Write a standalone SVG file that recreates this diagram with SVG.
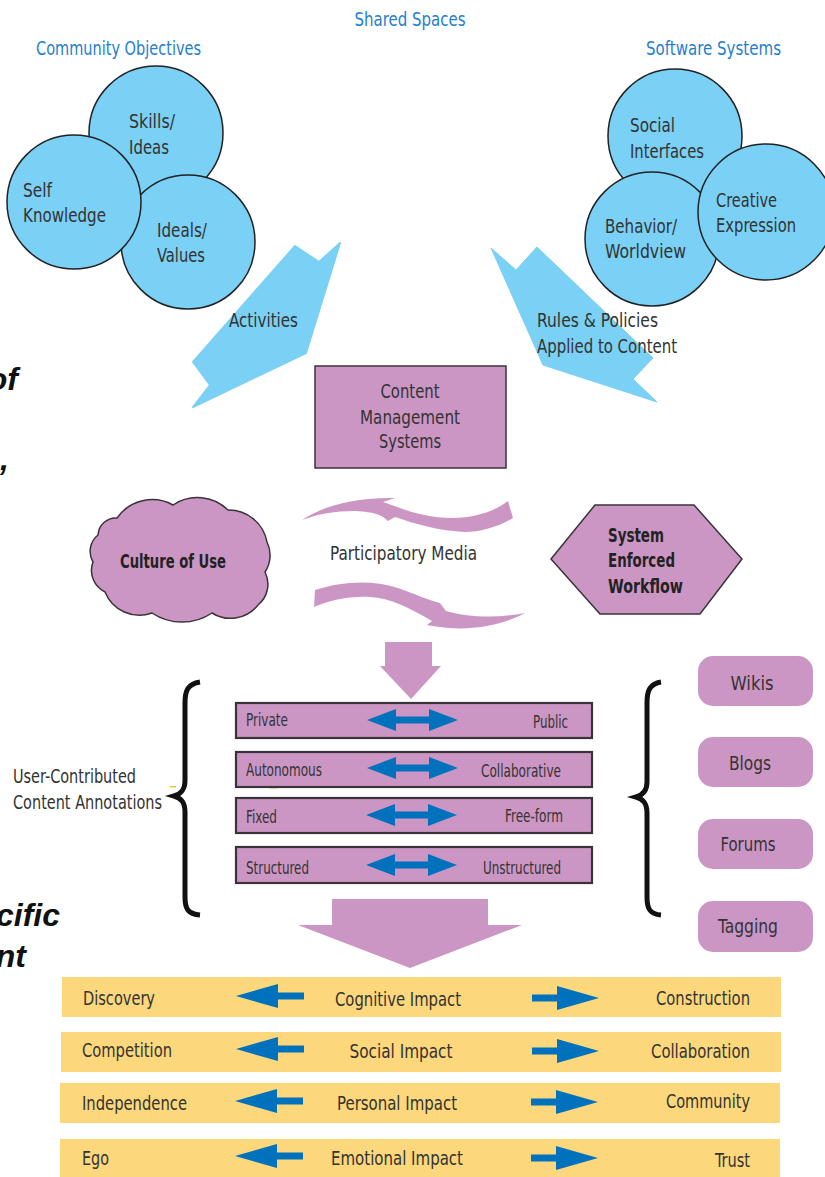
<svg xmlns="http://www.w3.org/2000/svg" xmlns:xlink="http://www.w3.org/1999/xlink" width="825" height="1177" viewBox="0 0 825 1177">
<defs>
<style>
.t{font-family:"Liberation Sans Narrow","DejaVu Sans Condensed","Liberation Sans",Arial,sans-serif;fill:#333;font-size:20px}
.s{font-size:17px}
.b{font-weight:bold}
.bl{fill:#1f80cf}
.c{text-anchor:middle}
.e{text-anchor:end}
.circ{fill:#7ad0f5;stroke:#222;stroke-width:1.5}
.sky{fill:#7ad0f5}
.pur{fill:#cc96c4}
.purs{fill:#cc96c4;stroke:#3a3339;stroke-width:1.5}
.bar{fill:#cc96c4;stroke:#3a3339;stroke-width:2.2}
.yel{fill:#fcd77b}
.arr{fill:#0071bc}
.side{font-family:"Liberation Sans",Arial,sans-serif;font-weight:bold;font-style:italic;font-size:32px;fill:#111}
</style>
<path id="dbl" d="M-45,0 L-16,-11 L-16,-3.5 L17,-3.5 L17,-11 L46,0 L17,11 L17,3.5 L-16,3.5 L-16,11 Z"/>
<path id="la" d="M0,0 L42,-12 L42,-3.5 L68,-3.5 L68,3.5 L42,3.5 L42,12 Z"/>
<path id="ra" d="M0,-3.5 L25,-3.5 L25,-12 L67,0 L25,12 L25,3.5 L0,3.5 Z"/>
</defs>
<rect width="825" height="1177" fill="#ffffff"/>

<!-- side clipped caption fragments -->
<g id="side-text">
<text class="side e" x="18" y="390">of</text>
<text class="side e" x="9" y="470">e,</text>
<text class="side e" x="60" y="926">cific</text>
<text class="side e" x="26" y="967">nt</text>
</g>

<!-- headings -->
<g id="headings">
<text class="t bl c" x="410" y="26" textLength="111" lengthAdjust="spacingAndGlyphs">Shared Spaces</text>
<text class="t bl" x="36" y="55" textLength="165" lengthAdjust="spacingAndGlyphs">Community Objectives</text>
<text class="t bl" x="646" y="55" textLength="135" lengthAdjust="spacingAndGlyphs">Software Systems</text>
</g>

<!-- community objectives circles -->
<g id="skills-ideas">
<circle class="circ" cx="156" cy="133" r="67"/>
<text class="t" x="129" y="128" textLength="46" lengthAdjust="spacingAndGlyphs">Skills/</text>
<text class="t" x="129" y="154" textLength="40" lengthAdjust="spacingAndGlyphs">Ideas</text>
</g>
<g id="ideals-values">
<circle class="circ" cx="188" cy="242" r="67"/>
<text class="t" x="157" y="237" textLength="50" lengthAdjust="spacingAndGlyphs">Ideals/</text>
<text class="t" x="157" y="262" textLength="48" lengthAdjust="spacingAndGlyphs">Values</text>
</g>
<g id="self-knowledge">
<circle class="circ" cx="74" cy="202" r="67"/>
<text class="t" x="23" y="197" textLength="29" lengthAdjust="spacingAndGlyphs">Self</text>
<text class="t" x="23" y="222" textLength="83" lengthAdjust="spacingAndGlyphs">Knowledge</text>
</g>

<!-- software systems circles -->
<g id="social-interfaces">
<circle class="circ" cx="675" cy="136" r="67"/>
<text class="t" x="630" y="132" textLength="45" lengthAdjust="spacingAndGlyphs">Social</text>
<text class="t" x="630" y="158" textLength="74" lengthAdjust="spacingAndGlyphs">Interfaces</text>
</g>
<g id="behavior-worldview">
<circle class="circ" cx="652" cy="239" r="67"/>
<text class="t" x="605" y="233" textLength="72" lengthAdjust="spacingAndGlyphs">Behavior/</text>
<text class="t" x="605" y="258" textLength="81" lengthAdjust="spacingAndGlyphs">Worldview</text>
</g>
<g id="creative-expression">
<circle class="circ" cx="766" cy="212" r="68"/>
<text class="t" x="716" y="207" textLength="61" lengthAdjust="spacingAndGlyphs">Creative</text>
<text class="t" x="716" y="232" textLength="80" lengthAdjust="spacingAndGlyphs">Expression</text>
</g>

<!-- connectors -->
<g id="connectors">
<path class="sky" stroke="#7ad0f5" stroke-width="2" stroke-linejoin="round" d="M295,246 L319,262 L340,243 L306,353 L193,407 L210,385 L193,362 Z"/>
<path class="sky" stroke="#7ad0f5" stroke-width="1" stroke-linejoin="round" d="M491,248 L516,270 L537,247 L653,358 L633,379 L657,402 L543,365 Z"/>
<path class="pur" d="M302,520 C320,508 350,497 395,498 L383,502 C405,510 425,518 452,518 C475,518 495,511 508,501 L513,518 C498,527 480,532 465,532 C440,531 415,524 395,517 L388,521 C382,515 375,512 355,511 C335,511 318,514 302,520 Z"/>
<path class="pur" d="M315,590 C340,582 370,579 398,588 C415,594 428,600 440,603 L446,611 C470,618 500,618 525,613 C505,624 475,630 450,628 C440,627 432,626 427,625 L432,621 C410,608 390,598 370,597 C350,596 330,600 314,607 Z"/>
<path class="pur" d="M385,642 L432,642 L432,666 L441,666 L411,699 L380,666 L385,666 Z"/>
<path class="pur" d="M332,899 L488,899 L488,925 L522,925 L410,968 L298,925 L332,925 Z"/>
<path fill="none" stroke="#111" stroke-width="5" d="M200,682 C188,684 185,690 185,703 L185,780 C185,790 181,794 174,796 C181,798 185,802 185,812 L185,897 C185,909 188,914 200,915"/>
<path fill="none" stroke="#111" stroke-width="5" d="M661,682 C650,684 647,690 647,703 L647,782 C647,791 643,795 636,797 C643,799 647,803 647,813 L647,897 C647,909 650,914 661,915"/>
</g>

<g id="activities-label">
<text class="t" x="229" y="327" textLength="69" lengthAdjust="spacingAndGlyphs">Activities</text>
</g>
<g id="rules-label">
<text class="t" x="537" y="327" textLength="121" lengthAdjust="spacingAndGlyphs">Rules &amp; Policies</text>
<text class="t" x="537" y="353" textLength="140" lengthAdjust="spacingAndGlyphs">Applied to Content</text>
</g>

<!-- content management systems -->
<g id="cms">
<rect class="purs" x="315" y="366" width="191" height="102"/>
<text class="t c" x="410" y="398" textLength="59" lengthAdjust="spacingAndGlyphs">Content</text>
<text class="t c" x="410" y="424" textLength="100" lengthAdjust="spacingAndGlyphs">Management</text>
<text class="t c" x="410" y="448" textLength="62" lengthAdjust="spacingAndGlyphs">Systems</text>
</g>

<g id="participatory-media">
<text class="t" x="330" y="560" textLength="147" lengthAdjust="spacingAndGlyphs">Participatory Media</text>
</g>

<!-- culture of use cloud -->
<g id="culture-of-use">
<path class="purs" d="M117,518 A43,43 0 0 1 173,505 A44,44 0 0 1 228,510 A39,39 0 0 1 267,542 A30,30 0 0 1 265,572 A27,27 0 0 1 258,605 A35,35 0 0 1 212,613 A54,54 0 0 1 152,613 A37,37 0 0 1 105,592 A24,24 0 0 1 93,562 A21,21 0 0 1 98,535 A18,18 0 0 1 117,518 Z"/>
<text class="t b" x="120" y="568" textLength="106" lengthAdjust="spacingAndGlyphs" style="fill:#222">Culture of Use</text>
</g>

<!-- system enforced workflow hexagon -->
<g id="system-enforced-workflow">
<polygon class="purs" points="551,559 595,505 694,505 742,559 700,614 600,614"/>
<text class="t b" x="608" y="542" textLength="56" lengthAdjust="spacingAndGlyphs" style="fill:#222">System</text>
<text class="t b" x="608" y="567" textLength="67" lengthAdjust="spacingAndGlyphs" style="fill:#222">Enforced</text>
<text class="t b" x="608" y="593" textLength="75" lengthAdjust="spacingAndGlyphs" style="fill:#222">Workflow</text>
</g>

<!-- user contributed content annotations -->
<g id="annotations-label">
<text class="t" x="13" y="783" textLength="123" lengthAdjust="spacingAndGlyphs">User-Contributed</text>
<text class="t" x="13" y="809" textLength="149" lengthAdjust="spacingAndGlyphs">Content Annotations</text>
<rect x="170" y="786" width="6" height="1.5" fill="#f2c14a"/>
<rect x="270" y="787" width="7" height="1.5" fill="#f2c14a"/>
</g>

<g id="private-public">
<rect class="bar" x="236" y="703" width="356" height="35"/>
<use xlink:href="#dbl" href="#dbl" x="412" y="720" class="arr"/>
<text class="t s" x="246" y="726" textLength="42" lengthAdjust="spacingAndGlyphs">Private</text>
<text class="t s e" x="568" y="728" textLength="35" lengthAdjust="spacingAndGlyphs">Public</text>
</g>
<g id="autonomous-collaborative">
<rect class="bar" x="236" y="752" width="356" height="35"/>
<use xlink:href="#dbl" href="#dbl" x="412" y="768" class="arr"/>
<text class="t s" x="246" y="776" textLength="76" lengthAdjust="spacingAndGlyphs">Autonomous</text>
<text class="t s e" x="561" y="777" textLength="80" lengthAdjust="spacingAndGlyphs">Collaborative</text>
</g>
<g id="fixed-freeform">
<rect class="bar" x="236" y="798" width="356" height="35"/>
<use xlink:href="#dbl" href="#dbl" x="411" y="815" class="arr"/>
<text class="t s" x="246" y="823" textLength="31" lengthAdjust="spacingAndGlyphs">Fixed</text>
<text class="t s e" x="563" y="822" textLength="58" lengthAdjust="spacingAndGlyphs">Free-form</text>
</g>
<g id="structured-unstructured">
<rect class="bar" x="236" y="847" width="356" height="36"/>
<use xlink:href="#dbl" href="#dbl" x="411" y="865" class="arr"/>
<text class="t s" x="246" y="874" textLength="63" lengthAdjust="spacingAndGlyphs">Structured</text>
<text class="t s e" x="561" y="874" textLength="78" lengthAdjust="spacingAndGlyphs">Unstructured</text>
</g>

<!-- media types -->
<g id="wikis">
<rect class="pur" x="698" y="656" width="115" height="50" rx="15"/>
<text class="t c" x="752" y="690" textLength="43" lengthAdjust="spacingAndGlyphs">Wikis</text>
</g>
<g id="blogs">
<rect class="pur" x="698" y="737" width="115" height="50" rx="15"/>
<text class="t c" x="750" y="770" textLength="42" lengthAdjust="spacingAndGlyphs">Blogs</text>
</g>
<g id="forums">
<rect class="pur" x="698" y="819" width="115" height="50" rx="15"/>
<text class="t c" x="748" y="851" textLength="55" lengthAdjust="spacingAndGlyphs">Forums</text>
</g>
<g id="tagging">
<rect class="pur" x="698" y="901" width="115" height="51" rx="15"/>
<text class="t c" x="748" y="933" textLength="60" lengthAdjust="spacingAndGlyphs">Tagging</text>
</g>

<!-- impact bars -->
<g id="cognitive-impact">
<rect class="yel" x="62" y="977" width="719" height="40"/>
<use xlink:href="#la" href="#la" x="236" y="996" class="arr"/>
<use xlink:href="#ra" href="#ra" x="532" y="998" class="arr"/>
<text class="t" x="83" y="1005" textLength="72" lengthAdjust="spacingAndGlyphs">Discovery</text>
<text class="t c" x="398" y="1006" textLength="126" lengthAdjust="spacingAndGlyphs">Cognitive Impact</text>
<text class="t e" x="750" y="1005" textLength="94" lengthAdjust="spacingAndGlyphs">Construction</text>
</g>
<g id="social-impact">
<rect class="yel" x="61" y="1032" width="720" height="40"/>
<use xlink:href="#la" href="#la" x="236" y="1049" class="arr"/>
<use xlink:href="#ra" href="#ra" x="532" y="1051" class="arr"/>
<text class="t" x="82" y="1057" textLength="90" lengthAdjust="spacingAndGlyphs">Competition</text>
<text class="t c" x="401" y="1058" textLength="103" lengthAdjust="spacingAndGlyphs">Social Impact</text>
<text class="t e" x="750" y="1058" textLength="99" lengthAdjust="spacingAndGlyphs">Collaboration</text>
</g>
<g id="personal-impact">
<rect class="yel" x="60" y="1083" width="720" height="40"/>
<use xlink:href="#la" href="#la" x="235" y="1101" class="arr"/>
<use xlink:href="#ra" href="#ra" x="531" y="1102" class="arr"/>
<text class="t" x="82" y="1110" textLength="105" lengthAdjust="spacingAndGlyphs">Independence</text>
<text class="t c" x="397" y="1110" textLength="120" lengthAdjust="spacingAndGlyphs">Personal Impact</text>
<text class="t e" x="750" y="1108" textLength="84" lengthAdjust="spacingAndGlyphs">Community</text>
</g>
<g id="emotional-impact">
<rect class="yel" x="60" y="1139" width="720" height="38"/>
<use xlink:href="#la" href="#la" x="235" y="1156" class="arr"/>
<use xlink:href="#ra" href="#ra" x="531" y="1158" class="arr"/>
<text class="t" x="82" y="1165" textLength="27" lengthAdjust="spacingAndGlyphs">Ego</text>
<text class="t c" x="397" y="1165" textLength="132" lengthAdjust="spacingAndGlyphs">Emotional Impact</text>
<text class="t e" x="750" y="1167" textLength="35" lengthAdjust="spacingAndGlyphs">Trust</text>
</g>
</svg>
